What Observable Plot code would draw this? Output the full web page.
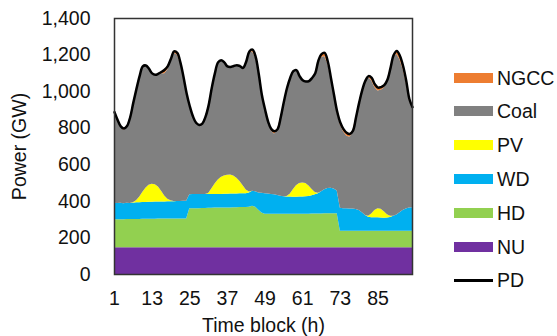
<!DOCTYPE html>
<html><head><meta charset="utf-8">
<script src="https://cdn.jsdelivr.net/npm/d3@7"></script>
<script src="https://cdn.jsdelivr.net/npm/@observablehq/plot@0.6"></script>
<style>
body{margin:0;background:#fff;}
#wrap{position:relative;width:557px;height:336px;font-family:"Liberation Sans",Arial,sans-serif;color:#111;}
.sw{position:absolute;width:39px;height:10px;}
.lt{position:absolute;font-size:19.5px;line-height:20px;}
</style></head><body><div id="wrap"></div>
<script>
const seriesNames = ["NU","HD","WD","PV","Coal","NGCC"];
const seriesColors = ["#7030A0","#92D050","#00B0F0","#FFFF00","#808080","#ED7D31"];
const xTicks = [1,13,25,37,49,61,73,85];
const yTicks = [0,200,400,600,800,1000,1200,1400];
const timeBlocks = d3.range(1, 97);

const PD = [888,845,810,798,812,860,940,1015,1085,1138,1143,1125,1100,1092,1098,1108,1120,1140,1180,1220,1212,1160,1080,990,
920,865,830,818,825,862,925,1020,1100,1160,1172,1160,1138,1135,1140,1145,1140,1130,1165,1220,1230,1190,1095,980,
902,835,795,783,795,860,945,1020,1075,1112,1118,1085,1062,1055,1058,1075,1100,1170,1205,1212,1165,1075,980,890,
830,795,775,768,785,860,940,1010,1060,1085,1075,1040,1022,1025,1035,1065,1130,1200,1222,1195,1140,1060,960,915];
const NU = [146,146,146,146,146,146,146,146,146,146,146,146,146,146,146,146,146,146,146,146,146,146,146,146,
146,146,146,146,146,146,146,146,146,146,146,146,146,146,146,146,146,146,146,146,146,146,146,146,
146,146,146,146,146,146,146,146,146,146,146,146,146,146,146,146,146,146,146,146,146,146,146,146,
146,146,146,146,146,146,146,146,146,146,146,146,146,146,146,146,146,146,146,146,146,146,146,146];
const HD = [154,154,154,154,155,155,155,155,155,156,156,156,156,156,157,157,157,157,157,158,158,158,158,158,
213,213,214,214,215,215,216,216,217,217,217,218,218,218,219,219,220,220,221,222,227,222,205,190,
183,183,183,183,183,183,183,183,183,184,184,184,184,184,184,185,185,185,185,186,186,186,186,186,
91,91,91,91,91,91,91,91,91,91,91,91,91,91,91,91,91,91,91,91,91,91,91,91];
const WD = [90,88,90,87,89,87,89,91,92,92,92,93,93,94,93,94,94,95,95,94,95,95,96,96,
77,78,77,77,77,77,76,76,75,75,75,75,75,76,75,75,75,75,75,78,82,84,95,108,
113,111,109,107,103,99,96,95,95,93,93,94,94,95,96,99,105,111,121,131,138,140,136,124,
125,123,122,121,121,119,113,101,85,76,74,73,73,72,71,72,75,81,89,101,113,121,126,128];
const PV = [0,0,0,0,0,0,3,12,30,55,78,93,98,95,82,58,32,14,5,1,0,0,0,0,
0,0,0,0,0,0,5,30,55,78,93,100,104,104,98,86,68,44,20,5,0,0,0,0,
0,0,0,0,0,0,0,3,15,40,62,74,77,72,58,35,12,2,0,0,0,0,0,0,
0,0,0,0,0,0,0,0,0,5,20,40,50,48,35,18,6,0,0,0,0,0,0,0];
const Coal = [498,457,420,401,422,472,547,611,662,689,671,637,607,601,620,643,669,708,769,811,801,756,680,590,
484,428,393,376,387,424,482,552,607,644,641,621,595,591,602,619,631,645,703,761,763,733,649,536,
460,395,347,332,353,432,520,588,628,649,633,587,561,558,574,610,652,718,735,729,683,603,512,426,
456,420,398,392,415,494,575,657,728,759,729,672,644,650,677,728,804,870,878,837,772,690,589,545];
const NGCC = [0,0,0,10,0,0,0,0,0,0,0,0,0,0,0,10,22,20,8,10,12,5,0,0,
0,0,0,5,0,0,0,0,0,0,0,0,0,0,0,0,0,0,0,8,12,5,0,0,
0,0,10,15,10,0,0,5,8,0,0,0,0,0,0,0,0,8,18,20,12,0,0,8,
12,15,18,18,12,10,15,15,10,8,15,18,18,18,15,10,8,12,18,20,18,12,8,5];

const seriesValues = {NU, HD, WD, PV, Coal, NGCC};
const rows = [];
for (const s of seriesNames) {
  timeBlocks.forEach((t, i) => rows.push({t, s, v: seriesValues[s][i]}));
}
const pdRows = timeBlocks.map((t, i) => ({t, v: PD[i]}));

const chart = Plot.plot({
  width: 557, height: 336,
  marginLeft: 114, marginRight: 145, marginTop: 18, marginBottom: 62,
  style: {fontFamily: "'Liberation Sans', Arial, sans-serif", fontSize: "19.5px", color: "#111", background: "#fff"},
  x: {domain: [1, 96], ticks: xTicks, tickSize: 0, tickPadding: 17, tickFormat: d => String(d),
      label: "Time block (h)", labelAnchor: "center", labelOffset: 57, labelArrow: "none"},
  y: {domain: [0, 1400], ticks: yTicks, tickSize: 0, tickPadding: 24, tickFormat: d3.format(","),
      label: "Power (GW)", labelAnchor: "center", labelOffset: 102, labelArrow: "none"},
  color: {domain: seriesNames, range: seriesColors},
  marks: [
    Plot.areaY(rows, {x: "t", y: "v", z: "s", fill: "s", order: seriesNames}),
    Plot.line(pdRows, {x: "t", y: "v", stroke: "#000", strokeWidth: 2.5, curve: "catmull-rom"}),
    Plot.frame({stroke: "#333", strokeWidth: 1.5})
  ]
});
const wrap = document.getElementById("wrap");
wrap.appendChild(chart);

const legendNames = ["NGCC","Coal","PV","WD","HD","NU","PD"];
const legendColors = ["#ED7D31","#808080","#FFFF00","#00B0F0","#92D050","#7030A0","#000"];
legendNames.forEach((name, i) => {
  const cy = 77.6 + i * 33.8;
  const sw = document.createElement("div");
  sw.className = "sw";
  sw.style.left = "454px";
  if (name === "PD") {
    sw.style.height = "2.5px";
    sw.style.top = (cy - 1.25) + "px";
  } else {
    sw.style.top = (cy - 5) + "px";
  }
  sw.style.background = legendColors[i];
  wrap.appendChild(sw);
  const lt = document.createElement("div");
  lt.className = "lt";
  lt.style.left = "497px";
  lt.style.top = (cy - 10) + "px";
  lt.textContent = name;
  wrap.appendChild(lt);
});
</script></body></html>
